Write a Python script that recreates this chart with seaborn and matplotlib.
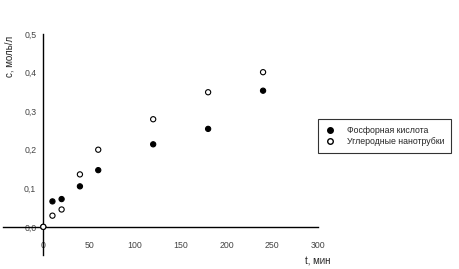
import matplotlib
matplotlib.use("Agg")
import matplotlib.pyplot as plt
import seaborn as sns
import pandas as pd
from matplotlib.ticker import FuncFormatter
from matplotlib.lines import Line2D

t_acid = [0, 10, 20, 40, 60, 120, 180, 240]
c_acid = [0.0, 0.066, 0.072, 0.105, 0.147, 0.214, 0.254, 0.353]
t_tubes = [0, 10, 20, 40, 60, 120, 180, 240]
c_tubes = [0.0, 0.029, 0.045, 0.136, 0.2, 0.279, 0.349, 0.401]
label_acid = "Фосфорная кислота"
label_tubes = "Углеродные нанотрубки"
x_ticks = [0, 50, 100, 150, 200, 250, 300]
y_ticks = [0.0, 0.1, 0.2, 0.3, 0.4, 0.5]

df = pd.concat([
    pd.DataFrame({"t": t_acid, "c": c_acid, "s": label_acid}),
    pd.DataFrame({"t": t_tubes, "c": c_tubes, "s": label_tubes}),
])

sns.set_style("white")
plt.rcParams['font.family'] = ['Liberation Sans', 'DejaVu Sans']

fig = plt.figure(figsize=(4.6, 2.69), dpi=100)
ax = fig.add_axes([3/460, 1-255/269, (318-3)/460, (255-34)/269])

sns.scatterplot(data=df, x="t", y="c", hue="s", style="s",
                palette={label_acid: "black", label_tubes: "white"},
                markers={label_acid: "o", label_tubes: "o"},
                edgecolor="black", linewidth=0.8, s=14, ax=ax, legend=False,
                clip_on=False, zorder=3)

ax.set_xlim(-44, 300)
ax.set_ylim(-0.073, 0.5)
for sp in ["top", "right"]:
    ax.spines[sp].set_visible(False)
ax.spines["left"].set_position(("data", 0))
ax.spines["bottom"].set_position(("data", 0))
for sp in ["left", "bottom"]:
    ax.spines[sp].set_linewidth(1.0)
    ax.spines[sp].set_color("black")
ax.set_xticks(x_ticks)
ax.set_yticks(y_ticks)
ax.yaxis.set_major_formatter(FuncFormatter(lambda v, p: f"{v:.1f}".replace(".", ",")))
ax.tick_params(axis="y", direction="in", length=3, width=1, labelsize=6.3,
               labelcolor="#444444", pad=5)
ax.tick_params(axis="x", direction="out", length=3, width=1, labelsize=6.3,
               labelcolor="#444444", pad=7)
ax.set_xlabel("")
ax.set_ylabel("")

fig.text(10/460, 1-56/269, "с, моль/л", rotation=90, fontsize=7,
         ha="center", va="center", color="#222222")
fig.text(318/460, 1-261/269, "t, мин", fontsize=7, ha="center", va="center",
         color="#222222")

handles = [
    Line2D([], [], marker="o", linestyle="", markerfacecolor="black",
           markeredgecolor="black", markersize=4),
    Line2D([], [], marker="o", linestyle="", markerfacecolor="white",
           markeredgecolor="black", markersize=4),
]
leg = fig.legend(handles, [label_acid, label_tubes],
                 loc="upper left", bbox_to_anchor=(318/460, 1-119/269),
                 fontsize=6.3, frameon=True, fancybox=False,
                 edgecolor="black", borderpad=0.8, handletextpad=1.3,
                 labelspacing=0.25, handlelength=1.2, borderaxespad=0)
leg.get_frame().set_linewidth(0.8)

fig.savefig("out.png", dpi=100)
